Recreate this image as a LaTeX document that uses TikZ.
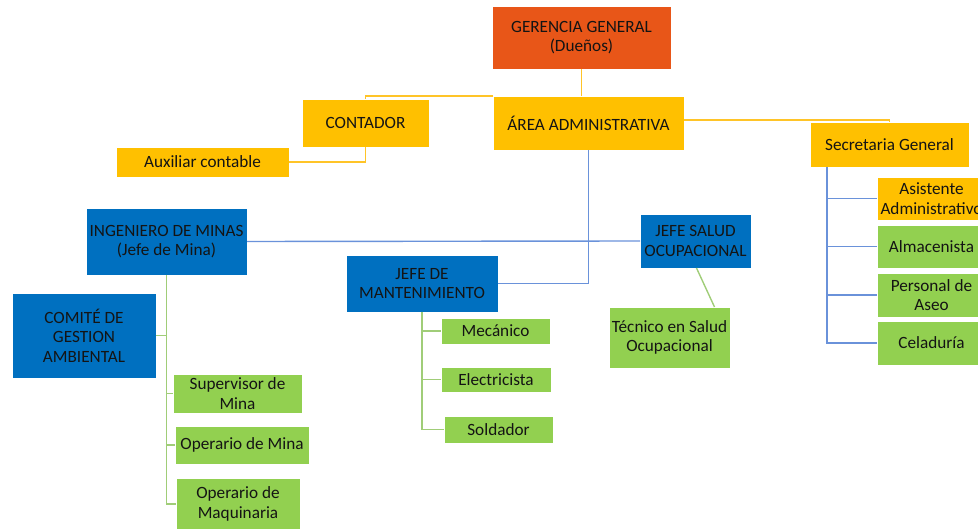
\documentclass[tikz,border=0pt]{standalone}
\usepackage{fontspec}
\setmainfont{Carlito}
\definecolor{cred}{RGB}{232,86,24}
\definecolor{cyel}{RGB}{255,192,0}
\definecolor{cblu}{RGB}{0,112,192}
\definecolor{cgrn}{RGB}{146,208,80}
\definecolor{lblu}{RGB}{106,146,218}
\definecolor{lgrn}{RGB}{160,205,120}
\definecolor{lyel}{RGB}{255,196,40}
\definecolor{txt}{RGB}{20,20,20}
\begin{document}
\begin{tikzpicture}[x=1pt,y=-1pt,
  box/.style={draw=white, line width=0.6pt, inner sep=0pt, outer sep=0pt, align=center,
    text=txt, font=\fontsize{17.2}{19.5}\selectfont},
  redbox/.style={box, fill=cred},
  yelbox/.style={box, fill=cyel},
  blubox/.style={box, fill=cblu},
  grnbox/.style={box, fill=cgrn},
  yline/.style={draw=lyel, line width=1.2pt},
  bline/.style={draw=lblu, line width=1.4pt},
  gline/.style={draw=lgrn, line width=1.4pt}]
\useasboundingbox (0,0) rectangle (978,529);
% nodes
\node[redbox, minimum width=179, minimum height=63] (ger) at (581.5,37.5) {GERENCIA GENERAL\\(Dueños)};
\node[yelbox, minimum width=191, minimum height=54] (area) at (588.5,123) {ÁREA ADMINISTRATIVA};
\node[yelbox, minimum width=127, minimum height=48] (cont) at (365.5,123) {CONTADOR};
\node[yelbox, minimum width=173, minimum height=30] (aux) at (202.5,162) {Auxiliar contable};
\node[yelbox, minimum width=159, minimum height=45] (secr) at (889.5,144.5) {Secretaria General};
\node[yelbox, minimum width=109, minimum height=43] (asis) at (931.5,198.5) {Asistente\\Administrativo};
\node[grnbox, minimum width=109, minimum height=43] (alma) at (931.5,246.5) {Almacenista};
\node[grnbox, minimum width=109, minimum height=44] (pers) at (931.5,295) {Personal de\\Aseo};
\node[grnbox, minimum width=109, minimum height=44] (cela) at (931.5,343) {Celaduría};
\node[blubox, minimum width=161, minimum height=67] (ing) at (166.5,241.5) {INGENIERO DE MINAS\\(Jefe de Mina)};
\node[blubox, minimum width=152, minimum height=57] (mant) at (422,283.5) {JEFE DE\\MANTENIMIENTO};
\node[blubox, minimum width=111, minimum height=54] (salud) at (695.5,241) {JEFE SALUD\\OCUPACIONAL};
\node[grnbox, minimum width=121, minimum height=61] (tec) at (669.5,337.5) {Técnico en Salud\\Ocupacional};
\node[grnbox, minimum width=109, minimum height=26] (mec) at (495.5,331) {Mecánico};
\node[grnbox, minimum width=110, minimum height=25] (elec) at (496,379.5) {Electricista};
\node[grnbox, minimum width=109, minimum height=27] (sold) at (498.5,429.5) {Soldador};
\node[blubox, minimum width=144, minimum height=85] (comi) at (84,335.5) {COMITÉ DE\\GESTION\\AMBIENTAL};
\node[grnbox, minimum width=129, minimum height=39] (sup) at (237.5,393.5) {Supervisor de\\Mina};
\node[grnbox, minimum width=134, minimum height=38] (opmi) at (242,445) {Operario de Mina};
\node[grnbox, minimum width=124, minimum height=52] (opma) at (238,504) {Operario de\\Maquinaria};
% connectors
\draw[yline] (ger.south) -- (ger.south |- area.north);
\draw[yline] (area.north west) -- (cont.north |- area.north) -- (cont.north);
\draw[yline] (cont.south) |- (aux.east);
\draw[yline] ([yshift=3pt]area.east) -| (secr.north);
\draw[bline] (area.south) |- (mant.east);
\draw[bline] (ing.east) -- (salud.west);
\draw[gline] ([xshift=1pt]salud.south) -- ([xshift=45pt]tec.north);
\draw[gline] (mant.south) |- (mec.west);
\draw[gline] (mant.south) |- (elec.west);
\draw[gline] (mant.south) |- (sold.west);
\draw[gline] (ing.south) |- (opma.west);
\draw[gline] (ing.south |- sup.west) -- (sup.west);
\draw[gline] (ing.south |- opmi.west) -- (opmi.west);
\draw[gline] (ing.south |- comi.east) -- (comi.east);
\coordinate (sv) at ([xshift=17pt]secr.south west);
\draw[bline] (sv) |- (cela.west);
\draw[bline] (sv |- asis.west) -- (asis.west);
\draw[bline] (sv |- alma.west) -- (alma.west);
\draw[bline] (sv |- pers.west) -- (pers.west);
\end{tikzpicture}
\end{document}
